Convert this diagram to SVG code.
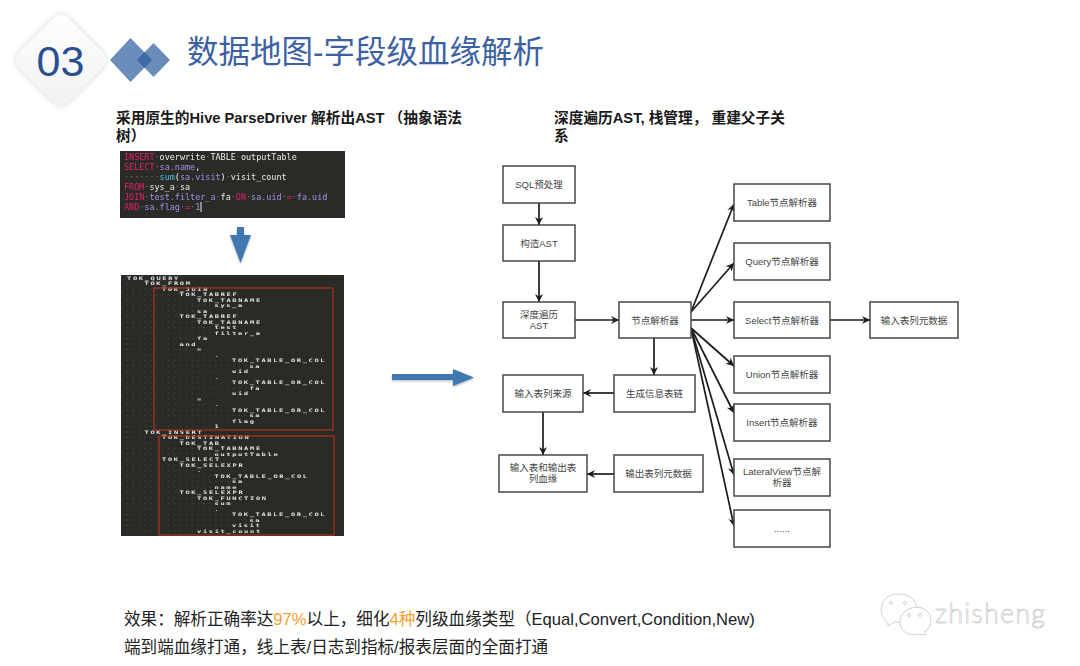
<svg xmlns="http://www.w3.org/2000/svg" width="1080" height="666" viewBox="0 0 1080 666">
<style>
text{font-family:"Liberation Sans","Noto Sans CJK SC",sans-serif}
.box{fill:#fff;stroke:#484848;stroke-width:1.5}
.lbl{font-size:9.5px;fill:#444;text-anchor:middle}
.head{font-size:14.7px;font-weight:bold;fill:#1a1a1a}
.foot{font-size:16.6px;fill:#222}
.or{fill:#f5a030}
.cn{stroke:#1c1c1c;stroke-width:1.7;fill:none;marker-end:url(#ah)}
.code{font-family:"DejaVu Sans Mono","Liberation Mono",monospace;font-size:8.45px;fill:#ececec}
.p{fill:#e2206c}.v{fill:#a88ce8}.c{fill:#52c0e8}.d{fill:#777}
.tree{font-family:"DejaVu Sans Mono","Liberation Mono",monospace;font-size:4.7px;font-weight:bold;letter-spacing:1.1px;fill:#e4e4e4}
.big{fill:#4079b2;filter:url(#bsh)}
</style>
<defs>
<marker id="ah" markerUnits="userSpaceOnUse" markerWidth="10" markerHeight="10" refX="8" refY="4.5" orient="auto"><path d="M0,0.5 L8,4.5 L0,8.500 L2.5,4.5 Z" fill="#1c1c1c"/></marker>
<filter id="soft" x="-2%" y="-2%" width="104%" height="104%"><feGaussianBlur stdDeviation="0.35"/></filter>
<filter id="sh" x="-20%" y="-20%" width="140%" height="140%"><feDropShadow dx="0" dy="0" stdDeviation="2.5" flood-color="#bbb" flood-opacity="0.7"/></filter>
<filter id="bsh" x="-10%" y="-20%" width="120%" height="140%"><feDropShadow dx="0" dy="1.2" stdDeviation="0.8" flood-color="#888" flood-opacity="0.6"/></filter>
<linearGradient id="dg" x1="0" y1="0" x2="1" y2="1"><stop offset="0" stop-color="#fff"/><stop offset="1" stop-color="#f1f1f1"/></linearGradient>
</defs>

<rect width="1080" height="666" fill="#fff"/>

<g id="badge">
<rect x="26" y="25" width="70" height="70" rx="9" transform="rotate(45 61 60)" fill="url(#dg)" filter="url(#sh)"/>
<text x="60.500" y="76" font-size="43" fill="#2a4f90" text-anchor="middle">03</text>
</g>
<g id="deco">
<path d="M110,60 L130.500,38 L152,60 L130.500,82 Z" fill="#6a8cb8"/>
<path d="M137,60 L153.500,43 L170,60 L153.500,77 Z" fill="#6a8cb8"/>
<path d="M137,60 L144.500,52 L152,60 L144.500,68 Z" fill="#3f6aa8"/>
</g>
<text id="title" x="187" y="63" font-size="31.500" fill="#3c61a2">数据地图-字段级血缘解析</text>

<g id="left-heading">
<text class="head" x="116" y="123">采用原生的Hive ParseDriver 解析出AST （抽象语法</text>
<text class="head" x="116" y="141">树）</text>
</g>
<g id="right-heading">
<text class="head" x="554" y="123">深度遍历AST, 栈管理， 重建父子关</text>
<text class="head" x="554" y="141">系</text>
</g>

<g id="sql-panel" filter="url(#soft)">
<rect x="120" y="151" width="225" height="67" fill="#2b2b28"/>
<text class="code" x="124" y="160"><tspan class="p">INSERT</tspan><tspan class="d">·</tspan>overwrite<tspan class="d">·</tspan>TABLE<tspan class="d">·</tspan>outputTable</text>
<text class="code" x="124" y="170"><tspan class="p">SELECT</tspan><tspan class="d">·</tspan><tspan class="v">sa.name</tspan>,</text>
<text class="code" x="124" y="180"><tspan class="d">·······</tspan><tspan class="c">sum</tspan>(<tspan class="v">sa.visit</tspan>)<tspan class="d">·</tspan>visit_count</text>
<text class="code" x="124" y="190"><tspan class="p">FROM</tspan><tspan class="d">·</tspan>sys_a<tspan class="d">·</tspan>sa</text>
<text class="code" x="124" y="200"><tspan class="p">JOIN</tspan><tspan class="d">·</tspan><tspan class="v">test.filter_a</tspan><tspan class="d">·</tspan>fa<tspan class="d">·</tspan><tspan class="p">ON</tspan><tspan class="d">·</tspan><tspan class="v">sa.uid</tspan><tspan class="d">·</tspan><tspan class="p">=</tspan><tspan class="d">·</tspan><tspan class="v">fa.uid</tspan></text>
<text class="code" x="124" y="210"><tspan class="p">AND</tspan><tspan class="d">·</tspan><tspan class="v">sa.flag</tspan><tspan class="d">·</tspan><tspan class="p">=</tspan><tspan class="d">·</tspan><tspan class="v">1</tspan></text>
<rect x="200.500" y="202" width="1" height="10" fill="#eee"/>
</g>

<path id="arrow-down" class="big" d="M237,227 H244 V235 H251 L240.500,263 L230,235 H237 Z"/>
<path id="arrow-right" class="big" d="M392,374 H453 V369 L474,377.500 L453,386 V380 H392 Z"/>

<g id="ast-panel" filter="url(#soft)">
<rect x="121" y="275" width="223" height="261" fill="#2b2b28"/>
<path fill="none" stroke="#707070" stroke-width="0.7" stroke-dasharray="0.7 5.2" d="M127,283.500H144.500M127,289H162M127,294.500H179.500M127,300H197M127,305.500H214.500M127,311H197M127,316.500H179.500M127,322H197M127,327.500H214.500M127,333H214.500M127,338.500H197M127,344H179.500M127,349.500H197M127,355H214.500M127,360.500H232M127,366H249.500M127,371.500H232M127,377H214.500M127,382.500H232M127,388H249.500M127,393.500H232M127,399H197M127,404.500H214.500M127,410H232M127,415.500H249.500M127,421H232M127,426.500H214.500M127,432H144.500M127,437.500H162M127,443H179.500M127,448.500H197M127,454H214.500M127,459.500H162M127,465H179.500M127,470.500H197M127,476H214.500M127,481.500H232M127,487H214.500M127,492.500H179.500M127,498H197M127,503.500H214.500M127,509H214.500M127,514.500H232M127,520H249.500M127,525.500H232M127,531H197"/>
<g transform="scale(1.5,1)">
<text class="tree" x="84.670" y="280">TOK_QUERY</text>
<text class="tree" x="96.330" y="285.500">TOK_FROM</text>
<text class="tree" x="108" y="291">TOK_JOIN</text>
<text class="tree" x="119.670" y="296.500">TOK_TABREF</text>
<text class="tree" x="131.330" y="302">TOK_TABNAME</text>
<text class="tree" x="143" y="307.500">sys_a</text>
<text class="tree" x="131.330" y="313">sa</text>
<text class="tree" x="119.670" y="318.500">TOK_TABREF</text>
<text class="tree" x="131.330" y="324">TOK_TABNAME</text>
<text class="tree" x="143" y="329.500">test</text>
<text class="tree" x="143" y="335">filter_a</text>
<text class="tree" x="131.330" y="340.500">fa</text>
<text class="tree" x="119.670" y="346">and</text>
<text class="tree" x="131.330" y="351.500">=</text>
<text class="tree" x="143" y="357">.</text>
<text class="tree" x="154.670" y="362.500">TOK_TABLE_OR_COL</text>
<text class="tree" x="166.330" y="368">sa</text>
<text class="tree" x="154.670" y="373.500">uid</text>
<text class="tree" x="143" y="379">.</text>
<text class="tree" x="154.670" y="384.500">TOK_TABLE_OR_COL</text>
<text class="tree" x="166.330" y="390">fa</text>
<text class="tree" x="154.670" y="395.500">uid</text>
<text class="tree" x="131.330" y="401">=</text>
<text class="tree" x="143" y="406.500">.</text>
<text class="tree" x="154.670" y="412">TOK_TABLE_OR_COL</text>
<text class="tree" x="166.330" y="417.500">sa</text>
<text class="tree" x="154.670" y="423">flag</text>
<text class="tree" x="143" y="428.500">1</text>
<text class="tree" x="96.330" y="434">TOK_INSERT</text>
<text class="tree" x="108" y="439.500">TOK_DESTINATION</text>
<text class="tree" x="119.670" y="445">TOK_TAB</text>
<text class="tree" x="131.330" y="450.500">TOK_TABNAME</text>
<text class="tree" x="143" y="456">outputTable</text>
<text class="tree" x="108" y="461.500">TOK_SELECT</text>
<text class="tree" x="119.670" y="467">TOK_SELEXPR</text>
<text class="tree" x="131.330" y="472.500">.</text>
<text class="tree" x="143" y="478">TOK_TABLE_OR_COL</text>
<text class="tree" x="154.670" y="483.500">sa</text>
<text class="tree" x="143" y="489">name</text>
<text class="tree" x="119.670" y="494.500">TOK_SELEXPR</text>
<text class="tree" x="131.330" y="500">TOK_FUNCTION</text>
<text class="tree" x="143" y="505.500">sum</text>
<text class="tree" x="143" y="511">.</text>
<text class="tree" x="154.670" y="516.500">TOK_TABLE_OR_COL</text>
<text class="tree" x="166.330" y="522">sa</text>
<text class="tree" x="154.670" y="527.500">visit</text>
<text class="tree" x="131.330" y="533">visit_count</text>
</g>
<rect x="154" y="288" width="179" height="142" fill="none" stroke="#b03020" stroke-width="1.2"/>
<rect x="159" y="436" width="175" height="99" fill="none" stroke="#b03020" stroke-width="1.2"/>
</g>

<g id="connectors">
<path class="cn" d="M539,203V225"/>
<path class="cn" d="M539,261V302"/>
<path class="cn" d="M575,320H619"/>
<path class="cn" d="M654,338V375"/>
<path class="cn" d="M614,393H583"/>
<path class="cn" d="M543,412V455"/>
<path class="cn" d="M614,474H587"/>
<path class="cn" d="M691,312L734,204"/>
<path class="cn" d="M691,312L734,263"/>
<path class="cn" d="M691,320H734"/>
<path class="cn" d="M830,320H870"/>
<path class="cn" d="M691,328L734,366"/>
<path class="cn" d="M691,328L734,413"/>
<path class="cn" d="M691,328L734,475"/>
<path class="cn" d="M691,328L734,526"/>
</g>

<g id="n-sql"><rect class="box" x="503" y="166" width="72" height="37"/><text class="lbl" x="539" y="188">SQL预处理</text></g>
<g id="n-build"><rect class="box" x="503" y="225" width="72" height="36"/><text class="lbl" x="539" y="246.500">构造AST</text></g>
<g id="n-walk"><rect class="box" x="503" y="302" width="72" height="36"/><text class="lbl" x="539" y="318">深度遍历</text><text class="lbl" x="539" y="328.500">AST</text></g>
<g id="n-parser"><rect class="box" x="619" y="302" width="72" height="36"/><text class="lbl" x="655" y="323.500">节点解析器</text></g>
<g id="n-chain"><rect class="box" x="614" y="375" width="81" height="37"/><text class="lbl" x="654.500" y="396.500">生成信息表链</text></g>
<g id="n-source"><rect class="box" x="503" y="375" width="80" height="37"/><text class="lbl" x="543" y="396.500">输入表列来源</text></g>
<g id="n-lineage"><rect class="box" x="499" y="455" width="88" height="37"/><text class="lbl" x="543" y="471">输入表和输出表</text><text class="lbl" x="543" y="482">列血缘</text></g>
<g id="n-outmeta"><rect class="box" x="614" y="455" width="89" height="37"/><text class="lbl" x="658.500" y="477">输出表列元数据</text></g>
<g id="n-table"><rect class="box" x="734" y="184" width="96" height="37"/><text class="lbl" x="782" y="206">Table节点解析器</text></g>
<g id="n-query"><rect class="box" x="734" y="243" width="96" height="37"/><text class="lbl" x="782" y="265">Query节点解析器</text></g>
<g id="n-select"><rect class="box" x="734" y="302" width="96" height="36"/><text class="lbl" x="782" y="323.500">Select节点解析器</text></g>
<g id="n-inmeta"><rect class="box" x="870" y="302" width="88" height="36"/><text class="lbl" x="914" y="323.500">输入表列元数据</text></g>
<g id="n-union"><rect class="box" x="734" y="356" width="96" height="37"/><text class="lbl" x="782" y="378">Union节点解析器</text></g>
<g id="n-insert"><rect class="box" x="734" y="404" width="96" height="37"/><text class="lbl" x="782" y="426">Insert节点解析器</text></g>
<g id="n-lateral"><rect class="box" x="734" y="459" width="96" height="37"/><text class="lbl" x="782" y="475">LateralView节点解</text><text class="lbl" x="782" y="486">析器</text></g>
<g id="n-more"><rect class="box" x="734" y="510" width="96" height="37"/><text class="lbl" x="782" y="532">......</text></g>

<g id="footer">
<text class="foot" x="124" y="625">效果：解析正确率达<tspan class="or">97%</tspan>以上，细化<tspan class="or">4种</tspan>列级血缘类型（Equal,Convert,Condition,New)</text>
<text class="foot" x="124" y="653">端到端血缘打通，线上表/日志到指标/报表层面的全面打通</text>
</g>

<g id="watermark" fill="#fff" stroke="#c4c4c4" stroke-width="0.8">
<path d="M888,623 C875,612 882,594 898,594 C914,594 921,606 913,616 C908,622 900,623 895,622 L888,626 Z"/>
<path d="M918,634 C905,637 899,628 900,620 C902,610 914,605 922,608 C934,612 933,628 924,632 L926,635 Z"/>
<circle cx="891" cy="603" r="1.500"/><circle cx="905" cy="603" r="1.500"/>
<circle cx="909" cy="615" r="1.500"/><circle cx="920" cy="615" r="1.500"/>
<text x="935" y="623" font-size="27" font-weight="300" style="font-family:Lato,'Noto Sans',sans-serif" stroke="#b8b8b8" stroke-width="0.5" textLength="110">zhisheng</text>
</g>
</svg>
